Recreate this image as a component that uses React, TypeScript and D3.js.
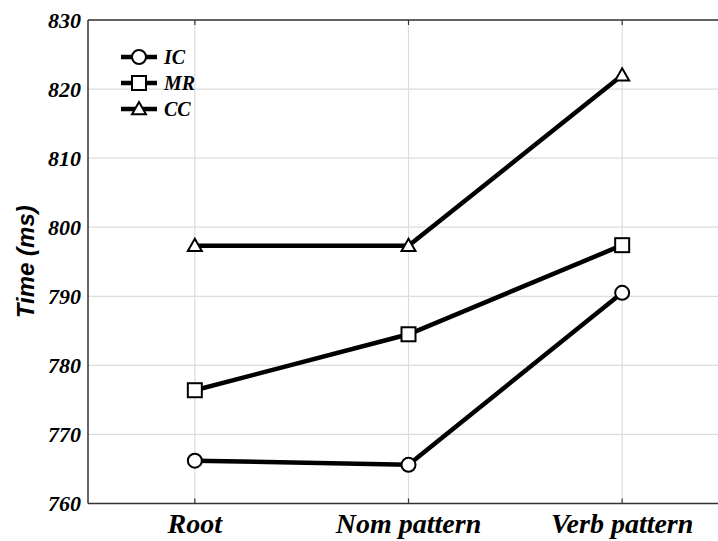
import React from "react";
import * as d3 from "d3";

const categories = ["Root", "Nom pattern", "Verb pattern"];
const icValues = [766.2, 765.6, 790.5];
const mrValues = [776.4, 784.5, 797.4];
const ccValues = [797.3, 797.3, 822.0];
const seriesNames = ["IC", "MR", "CC"];
const yTicks = [760, 770, 780, 790, 800, 810, 820, 830];

const W = 718, H = 541;
const left = 88, top = 20, bottom = 503.5, right = 729;

export default function App() {
  const x = d3.scalePoint<string>().domain(categories).range([left, right]).padding(0.5);
  const y = d3.scaleLinear().domain([760, 830]).range([bottom, top]);
  const line = d3.line<number>().x((_, i) => x(categories[i])!).y((d) => y(d));
  const series = [
    { name: seriesNames[0], values: icValues, shape: "circle" },
    { name: seriesNames[1], values: mrValues, shape: "square" },
    { name: seriesNames[2], values: ccValues, shape: "triangle" },
  ];
  const serifStyle = { fontFamily: '"Liberation Serif"', fontWeight: 700, fontStyle: "italic" } as React.CSSProperties;
  const marker = (shape: string, cx: number, cy: number, k: string) => {
    if (shape === "circle")
      return <circle key={k} cx={cx} cy={cy} r={7} fill="white" stroke="#000" strokeWidth={2} />;
    if (shape === "square")
      return <rect key={k} x={cx - 7} y={cy - 7} width={14} height={14} fill="white" stroke="#000" strokeWidth={2} />;
    const s = 7;
    return (
      <path key={k} d={`M${cx},${cy - s} L${cx + s},${cy + s * 0.75} L${cx - s},${cy + s * 0.75} Z`} fill="white" stroke="#000" strokeWidth={2} />
    );
  };
  return (
    <svg width={W} height={H} style={{ position: "absolute", left: 0, top: 0 }}>
      <rect width={W} height={H} fill="white" />
      <defs>
        <clipPath id="plot">
          <rect x={left} y={top - 10} width={right - left} height={bottom - top + 20} />
        </clipPath>
      </defs>
      {yTicks.map((t) => (
        <line key={"gy" + t} x1={left} x2={right} y1={y(t)} y2={y(t)} stroke="#dcdcdc" strokeWidth={1.2} />
      ))}
      {categories.map((c) => (
        <line key={"gx" + c} x1={x(c)} x2={x(c)} y1={top} y2={bottom} stroke="#dcdcdc" strokeWidth={1.2} />
      ))}
      <line x1={left} x2={right} y1={top} y2={top} stroke="#333" strokeWidth={1.5} />
      <line x1={left} x2={right} y1={bottom} y2={bottom} stroke="#333" strokeWidth={1.5} />
      <line x1={left} x2={left} y1={top} y2={bottom} stroke="#333" strokeWidth={1.5} />
      {categories.map((c) => (
        <g key={"tk" + c}>
          <line x1={x(c)} x2={x(c)} y1={bottom} y2={bottom - 5} stroke="#333" strokeWidth={1.2} />
          <line x1={x(c)} x2={x(c)} y1={top} y2={top + 5} stroke="#333" strokeWidth={1.2} />
        </g>
      ))}
      {yTicks.map((t) => (
        <text key={"yl" + t} x={81} y={y(t)} dy="0.35em" textAnchor="end" style={{ ...serifStyle, fontSize: 22 }}>
          {t}
        </text>
      ))}
      {categories.map((c) => (
        <text key={"xl" + c} x={x(c)} y={533} textAnchor="middle" style={{ ...serifStyle, fontSize: 28 }}>
          {c}
        </text>
      ))}
      <text transform={`translate(34,${(top + bottom) / 2}) rotate(-90)`} textAnchor="middle" style={{ fontFamily: '"Liberation Sans"', fontWeight: 700, fontStyle: "italic", fontSize: 24 }}>
        Time (ms)
      </text>
      <g clipPath="url(#plot)">
        {series.map((s) => (
          <path key={"l" + s.name} d={line(s.values)!} fill="none" stroke="#000" strokeWidth={4.5} />
        ))}
        {series.map((s) => s.values.map((v, i) => marker(s.shape, x(categories[i])!, y(v), s.name + i)))}
      </g>
      {series.map((s, i) => {
        const ly = 57 + i * 26;
        return (
          <g key={"lg" + s.name}>
            <line x1={121} x2={157} y1={ly} y2={ly} stroke="#000" strokeWidth={4.5} />
            {marker(s.shape, 139, ly, "lm" + s.name)}
            <text x={164} y={ly} dy="0.35em" style={{ ...serifStyle, fontSize: 20 }}>
              {s.name}
            </text>
          </g>
        );
      })}
    </svg>
  );
}
